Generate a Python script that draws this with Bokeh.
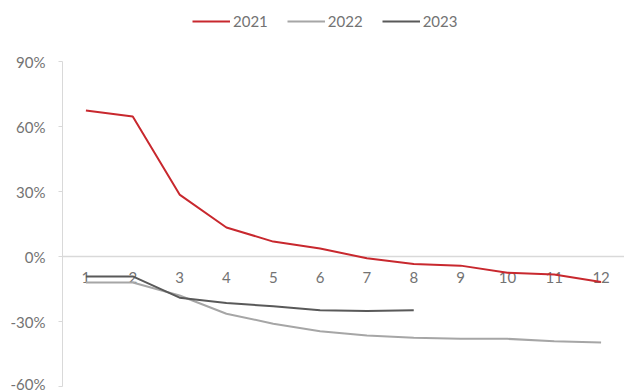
from bokeh.plotting import figure
from bokeh.models import Range1d, FixedTicker, PrintfTickFormatter, Legend, LegendItem, Span
from bokeh.core.properties import value
from bokeh.embed import file_html
from bokeh.resources import INLINE

months = [1, 2, 3, 4, 5, 6, 7, 8, 9, 10, 11, 12]
month_labels = [str(m) for m in months]
s2021 = [67.4, 64.6, 28.6, 13.4, 6.9, 3.7, -0.8, -3.4, -4.2, -7.5, -8.3, -11.8]
m2022 = [1, 2, 3, 4, 5, 6, 7, 8, 9, 10, 11, 12]
s2022 = [-12.0, -12.0, -18.0, -26.4, -31.0, -34.5, -36.5, -37.5, -38.0, -38.0, -39.1, -39.7]
m2023 = [1, 2, 3, 4, 5, 6, 7, 8]
s2023 = [-9.2, -9.2, -19.0, -21.4, -23.0, -24.8, -25.2, -24.8]
y_ticks = [-60, -30, 0, 30, 60, 90]

FONT = "Lato"
TXT = "#737373"
GRID = "#D9D9D9"

# frame spans the whole height; the top strip above 90% holds the legend
p = figure(width=624, height=392, output_backend="svg", toolbar_location=None,
           x_range=Range1d(0.5, 12.5), y_range=Range1d(-60, 118.2),
           x_axis_location=None, min_border_left=62, min_border_right=0,
           min_border_top=0, min_border_bottom=6)
p.outline_line_color = None
p.xgrid.visible = False
p.ygrid.visible = False
p.background_fill_color = "white"
p.border_fill_color = "white"

ya = p.yaxis[0]
ya.ticker = FixedTicker(ticks=y_ticks)
ya.formatter = PrintfTickFormatter(format="%d%%")
ya.bounds = (y_ticks[0], y_ticks[-1])
ya.axis_line_color = GRID
ya.major_tick_line_color = GRID
ya.major_tick_out = 4
ya.major_tick_in = 0
ya.minor_tick_line_color = None
ya.major_label_text_font = FONT
ya.major_label_text_font_size = "15px"
ya.major_label_text_color = TXT
ya.major_label_standoff = 13

zero = Span(location=0, dimension="width", line_color=GRID, line_width=1.5, level="underlay")
p.add_layout(zero)

p.text(x=months, y=[0] * len(months), text=month_labels, y_offset=21,
       text_align="center", text_baseline="middle",
       text_font=value(FONT), text_font_size="15px", text_color=TXT)

r1 = p.line(months, s2021, line_color="#C8282E", line_width=2)
r2 = p.line(m2022, s2022, line_color="#A6A6A6", line_width=2)
r3 = p.line(m2023, s2023, line_color="#595959", line_width=2)

legend = Legend(items=[LegendItem(label="2021", renderers=[r1]),
                       LegendItem(label="2022", renderers=[r2]),
                       LegendItem(label="2023", renderers=[r3])],
                orientation="horizontal", location=(130, 355),
                padding=0, margin=0, spacing=19, glyph_width=38, glyph_height=20,
                label_standoff=3, label_height=20,
                label_text_font=FONT, label_text_font_size="15px", label_text_color=TXT,
                background_fill_alpha=0, border_line_color=None)
p.add_layout(legend, "center")

open("out.html", "w").write(file_html(p, INLINE))
